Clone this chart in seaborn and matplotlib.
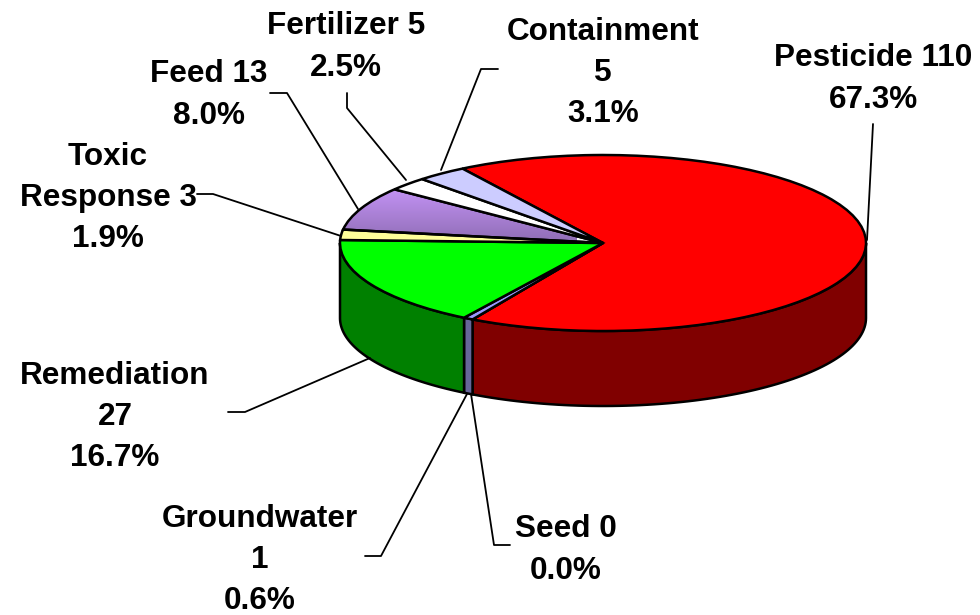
import numpy as np
import matplotlib
matplotlib.use('Agg')
import matplotlib.pyplot as plt
import seaborn as sns

# Chart data, clockwise from the red slice
categories = ['Pesticide', 'Seed', 'Groundwater', 'Remediation', 'Toxic\nResponse',
              'Feed', 'Fertilizer', 'Containment']
counts = [110, 0, 1, 27, 3, 13, 5, 5]
percents = [67.3, 0.0, 0.6, 16.7, 1.9, 8.0, 2.5, 3.1]
separators = [' ', ' ', '\n', '\n', ' ', ' ', ' ', '\n']

top_colors = ['#FF0000', '#6666CC', '#9999FF', '#00FF00', '#FFFF99',
              '#CC99FF', '#FFFFFF', '#CCCCFF']
side_colors = ['#800000', '#333399', '#666699', '#008000', '#808050',
               '#665080', '#808080', '#666680']

# Where things sit in the picture, in pixels
W, H = 980, 615
CX, CY = 603, 243
RX, RY = 263, 88
DEPTH = 75 / RY
START = 122.3

label_pos = [(873, 79), (566, 550), (260, 560), (115, 417), (108, 198),
             (209, 95), (346, 47), (603, 73)]
leaders = [
    [(873, 124), (867, 240)],
    [(510, 545), (494, 545), (471, 394)],
    [(365, 556), (381, 556), (467, 394)],
    [(228, 412), (245, 412), (370, 358)],
    [(197, 194), (213, 194), (341, 236)],
    [(270, 93), (287, 93), (358, 209)],
    [(347, 93), (347, 108), (406, 180)],
    [(498, 69), (481, 69), (441, 170)],
]

sns.set_theme(style='white')
plt.rcParams['font.family'] = ['Liberation Sans', 'DejaVu Sans']

fig, ax = plt.subplots(figsize=(W / 100, H / 100), dpi=100)
ax.set_position([0, 0, 1, 1])

palette = sns.color_palette(top_colors)
wedges, _ = ax.pie(percents, colors=palette, startangle=START, counterclock=False,
                   normalize=True,
                   wedgeprops={'edgecolor': 'black', 'linewidth': 1.8, 'zorder': 2})

# Rim of the disc: only the part of each slice facing the viewer
for wedge, color in zip(wedges, side_colors):
    lo = wedge.theta1 % 360
    hi = lo + (wedge.theta2 - wedge.theta1)
    for shift in (0, 360):
        a = max(lo, 180 + shift)
        b = min(hi, 360 + shift)
        if b - a <= 0:
            continue
        t = np.radians(np.linspace(a, b, 80))
        xs = np.r_[np.cos(t), np.cos(t[::-1])]
        ys = np.r_[np.sin(t), np.sin(t[::-1]) - DEPTH]
        ax.fill(xs, ys, facecolor=color, edgecolor='black', linewidth=1.8, zorder=1)

# Feed slice fades downwards
feed = wedges[categories.index('Feed')]
feed.set_facecolor('none')
fade = sns.blend_palette(['#CC99FF', '#8F6DB5'], as_cmap=True)
img = ax.imshow(np.linspace(0, 1, 64).reshape(-1, 1), cmap=fade, aspect='auto',
                extent=(-1, -0.1, 0, 0.72), origin='upper', zorder=1.5)
img.set_clip_path(feed)

ax.set_aspect('auto')
ax.set_xlim(-CX / RX, (W - CX) / RX)
ax.set_ylim(-(H - CY) / RY, CY / RY)
ax.set_axis_off()

for name, sep, count, pct, (x, y) in zip(categories, separators, counts, percents, label_pos):
    fig.text(x / W, 1 - y / H, f'{name}{sep}{count}\n{pct:.1f}%', ha='center', va='center',
             fontsize=22.7, fontweight='bold', color='black', linespacing=1.48)

for pts in leaders:
    xs = [p[0] / W for p in pts]
    ys = [1 - p[1] / H for p in pts]
    fig.add_artist(plt.Line2D(xs, ys, color='black', linewidth=1.3))

fig.savefig('out.png', dpi=100)
